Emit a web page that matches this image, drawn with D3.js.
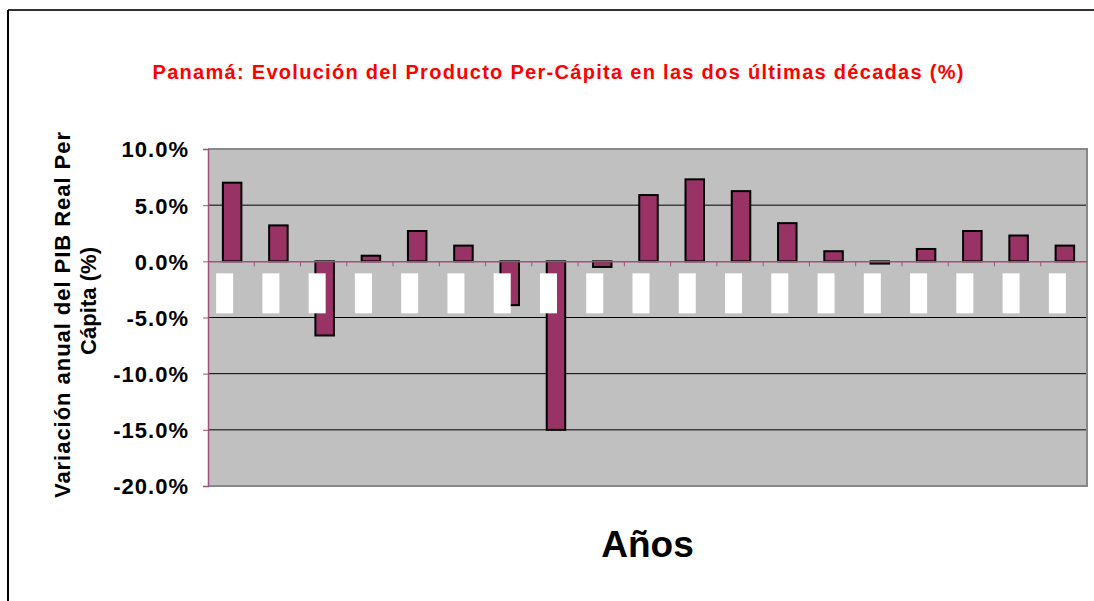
<html>
<head>
<script src="https://d3js.org/d3.v7.min.js"></script>
<style>
    body { margin: 0; background: #fff; font-family: "Liberation Sans", Arial, Helvetica, sans-serif; }
    text { font-weight: bold; }
</style>
</head>
<body>
<svg id="chart" width="1094" height="601"></svg>
<script>
// years for the 19 bars (labels render as blank white boxes in the source)
const years = ["1981","1982","1983","1984","1985","1986","1987","1988","1989","1990",
               "1991","1992","1993","1994","1995","1996","1997","1998","1999"];
// annual real per-capita GDP change, %
const growth = [7.0, 3.2, -6.6, 0.5, 2.7, 1.4, -3.9, -15.0, -0.5, 5.9,
                7.3, 6.25, 3.4, 0.9, -0.2, 1.1, 2.7, 2.3, 1.4];
const yTicks = [10, 5, 0, -5, -10, -15, -20];

const svg = d3.select("#chart");
const plot = { left: 208, right: 1087, top: 149, bottom: 486 };

// outer chart frame (only top and left edges visible)
svg.append("line").attr("x1", 8).attr("x2", 1094).attr("y1", 10).attr("y2", 10)
   .attr("stroke", "#333").attr("stroke-width", 2);
svg.append("line").attr("x1", 8).attr("x2", 8).attr("y1", 10).attr("y2", 601)
   .attr("stroke", "#000").attr("stroke-width", 2);

const x = d3.scaleBand().domain(years).range([plot.left, plot.right]);
const y = d3.scaleLinear().domain([-20, 10]).range([plot.bottom, plot.top]);
const barW = x.bandwidth() * 0.4;

// plot area
svg.append("rect")
   .attr("x", plot.left).attr("y", plot.top)
   .attr("width", plot.right - plot.left).attr("height", plot.bottom - plot.top)
   .attr("fill", "#c0c0c0");

// gridlines
svg.selectAll("line.grid").data(yTicks.filter(d => d != 0 && d != 10 && d != -20))
   .join("line").attr("class", "grid")
   .attr("x1", plot.left).attr("x2", plot.right)
   .attr("y1", d => y(d)).attr("y2", d => y(d))
   .attr("stroke", "#000").attr("stroke-width", 1);

// plot border (top, right, bottom)
svg.append("path")
   .attr("d", `M${plot.left},${plot.top}H${plot.right}V${plot.bottom}H${plot.left}`)
   .attr("fill", "none").attr("stroke", "#888").attr("stroke-width", 2);

// bars
svg.selectAll("rect.bar").data(growth)
   .join("rect").attr("class", "bar")
   .attr("x", (d, i) => x(years[i]) + x.bandwidth() / 2 - barW / 2 + 1)
   .attr("y", d => y(Math.max(0, d)))
   .attr("width", barW)
   .attr("height", d => Math.abs(y(d) - y(0)))
   .attr("fill", "#993366")
   .attr("stroke", "#000").attr("stroke-width", 2);

// y axis
const yAxis = svg.append("g")
   .attr("transform", `translate(${plot.left},0)`)
   .call(d3.axisLeft(y).tickValues(yTicks).tickSize(5).tickPadding(14)
          .tickFormat(d => d.toFixed(1) + "%"));
yAxis.select(".domain").attr("stroke", "#a0527a").attr("stroke-width", 1.5);
yAxis.selectAll(".tick line").attr("stroke", "#a0527a");
yAxis.selectAll(".tick text")
   .attr("fill", "#000")
   .style("font-size", "22px")
   .style("font-family", "Liberation Sans, Arial, sans-serif")
   .style("font-weight", "bold")
   .style("letter-spacing", "1px")
   .attr("dy", "0.36em");

// x axis on the zero line
const xAxis = svg.append("g")
   .attr("transform", `translate(0,${y(0)})`)
   .call(d3.axisBottom(x).tickSize(0).tickFormat(""));
xAxis.select(".domain").attr("stroke", "#a0527a").attr("stroke-width", 1.5);
svg.selectAll("line.xtick").data(years.slice(1))
   .join("line").attr("class", "xtick")
   .attr("x1", d => x(d)).attr("x2", d => x(d))
   .attr("y1", y(0)).attr("y2", y(0) + 5)
   .attr("stroke", "#a0527a").attr("stroke-width", 1);

// category labels show as white boxes
svg.selectAll("rect.lab").data(years)
   .join("rect").attr("class", "lab")
   .attr("x", d => x(d) + x.bandwidth() / 2 - 15)
   .attr("y", y(0) + 12)
   .attr("width", 17)
   .attr("height", 40)
   .attr("fill", "#fff");

// title
svg.append("text")
   .attr("x", 558).attr("y", 79)
   .attr("text-anchor", "middle")
   .attr("fill", "#ff0000")
   .style("font-size", "20px")
   .attr("textLength", 811)
   .attr("lengthAdjust", "spacing")
   .text("Panamá: Evolución del Producto Per-Cápita en las dos últimas décadas (%)");

// x axis title
svg.append("text")
   .attr("x", (plot.left + plot.right) / 2).attr("y", 557)
   .attr("text-anchor", "middle")
   .style("font-size", "37px")
   .text("Años");

// y axis title
const yt = svg.append("text")
   .attr("transform", "rotate(-90)")
   .attr("text-anchor", "middle")
   .style("font-size", "22px");
yt.append("tspan").attr("x", -315).attr("y", 70)
  .attr("textLength", 366).attr("lengthAdjust", "spacing")
  .text("Variación anual del PIB Real Per");
yt.append("tspan").attr("x", -301).attr("y", 96)
  .attr("textLength", 108).attr("lengthAdjust", "spacing")
  .text("Cápita (%)");
</script>
</body>
</html>
